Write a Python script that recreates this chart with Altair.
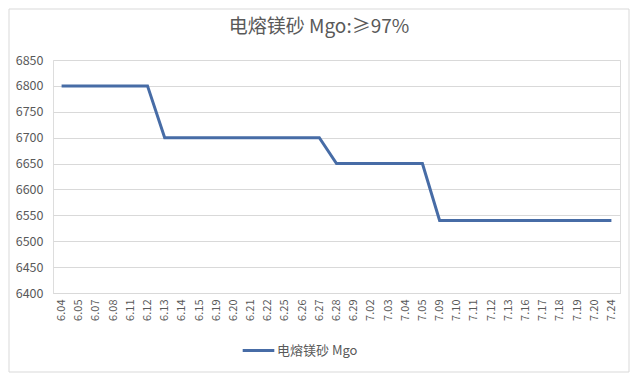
import altair as alt
import pandas as pd

dates = ["6.04", "6.05", "6.07", "6.08", "6.11", "6.12", "6.13", "6.14", "6.15", "6.19",
         "6.20", "6.21", "6.22", "6.25", "6.26", "6.27", "6.28", "6.29", "7.02", "7.03",
         "7.04", "7.05", "7.09", "7.10", "7.11", "7.12", "7.13", "7.16", "7.17", "7.18",
         "7.19", "7.20", "7.24"]
prices = [6800, 6800, 6800, 6800, 6800, 6800,
          6700, 6700, 6700, 6700, 6700, 6700, 6700, 6700, 6700, 6700,
          6650, 6650, 6650, 6650, 6650, 6650,
          6540, 6540, 6540, 6540, 6540, 6540, 6540, 6540, 6540, 6540, 6540]
series_name = "电熔镁砂 Mgo"
title_text = "电熔镁砂 Mgo:≥97%"

df = pd.DataFrame({"date": dates, "price": prices, "series": [series_name] * len(dates)})

W, H = 567, 233
FONT = "Noto Sans CJK SC"
GREY = "#595959"

line = alt.Chart(df).mark_line(strokeWidth=3, clip=False).encode(
    x=alt.X("date:O", sort=dates, scale=alt.Scale(type="point", padding=0.5),
            axis=alt.Axis(title=None, labelAngle=-90, labelFontSize=11, labelColor=GREY,
                          labelFont=FONT, ticks=False, domain=True, domainColor="#d9d9d9",
                          labelPadding=6, labelBaseline="middle", labelAlign="right")),
    y=alt.Y("price:Q", scale=alt.Scale(domain=[6400, 6850], nice=False, zero=False),
            axis=alt.Axis(title=None, values=list(range(6400, 6851, 50)), labelFontSize=12.5,
                          labelColor=GREY, labelFont=FONT, ticks=False, domain=False,
                          gridColor="#d9d9d9", labelPadding=10, format="d")),
    color=alt.Color("series:N", scale=alt.Scale(range=["#476CA6"]),
                    legend=alt.Legend(title=None, orient="none", legendX=188, legendY=273,
                                      symbolType="stroke", symbolSize=1000, symbolStrokeWidth=3,
                                      labelFont=FONT, labelFontSize=13, labelColor=GREY,
                                      labelOffset=1)),
)

border = alt.Chart(pd.DataFrame({"a": [0]})).mark_rect(
    fill="transparent", stroke="#d9d9d9", strokeWidth=1, clip=False
).encode(x=alt.value(-44), x2=alt.value(576), y=alt.value(-51), y2=alt.value(312))

title = alt.Chart(pd.DataFrame({"t": [title_text]})).mark_text(
    font=FONT, fontSize=19, color=GREY, align="center", baseline="middle", clip=False
).encode(text="t:N", x=alt.value(266), y=alt.value(-33))

chart = alt.layer(border, line, title).properties(
    width=W, height=H,
    padding={"left": 45, "top": 52, "right": 10, "bottom": 80},
    autosize=alt.AutoSizeParams(type="none"),
).configure_view(stroke=None).configure(background="white")

chart.save("out.html", embed_options={"renderer": "svg", "actions": False})
